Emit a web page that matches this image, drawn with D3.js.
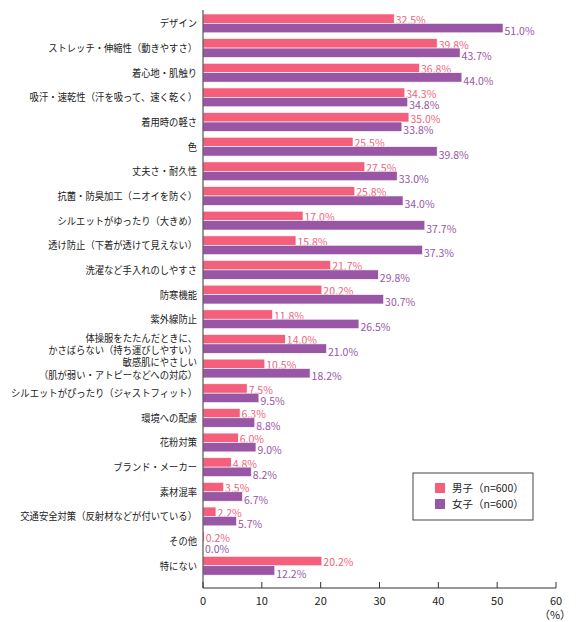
<!DOCTYPE html><html><head><meta charset="utf-8"><script src="https://cdn.jsdelivr.net/npm/d3@7"></script>
<style>body{margin:0;background:#fff}text{font-family:"Noto Sans CJK JP","Noto Sans",sans-serif}</style></head><body><svg id="c" width="579" height="622"></svg><script>
const categories=["デザイン","ストレッチ・伸縮性（動きやすさ）","着心地・肌触り","吸汗・速乾性（汗を吸って、速く乾く）","着用時の軽さ","色","丈夫さ・耐久性","抗菌・防臭加工（ニオイを防ぐ）","シルエットがゆったり（大きめ）","透け防止（下着が透けて見えない）","洗濯など手入れのしやすさ","防寒機能","紫外線防止","体操服をたたんだときに、\nかさばらない（持ち運びしやすい）","敏感肌にやさしい\n（肌が弱い・アトピーなどへの対応）","シルエットがぴったり（ジャストフィット）","環境への配慮","花粉対策","ブランド・メーカー","素材混率","交通安全対策（反射材などが付いている）","その他","特にない"];
const boys=[32.5,39.8,36.8,34.3,35.0,25.5,27.5,25.8,17.0,15.8,21.7,20.2,11.8,14.0,10.5,7.5,6.3,6.0,4.8,3.5,2.2,0.2,20.2];
const girls=[51.0,43.7,44.0,34.8,33.8,39.8,33.0,34.0,37.7,37.3,29.8,30.7,26.5,21.0,18.2,9.5,8.8,9.0,8.2,6.7,5.7,0.0,12.2];
const ticks=[0,10,20,30,40,50,60];
const series=["男子（n=600）","女子（n=600）"], colors=["#f45f7c","#9856a4"];
const svg=d3.select("#c");
const x=d3.scaleLinear().domain([0,60]).range([203,556]);
const y=d3.scaleBand().domain(categories).range([10,577]);
const bh=9.4, off=4;
const g=svg.append("g");
categories.forEach((c,i)=>{
  const y0=y(c)+off;
  [boys[i],girls[i]].forEach((v,k)=>{
    g.append("rect").attr("x",x(0)).attr("y",y0+k*bh).attr("width",Math.max(x(v)-x(0),v>0?0.8:0)).attr("height",bh).attr("fill",colors[k]).attr("stroke","#fff").attr("stroke-width",0.6);
    g.append("text").attr("x",x(v)+(v>0?1.5:2)).attr("y",y0+k*bh+bh+(k?2.5:0.5)).attr("font-size",10.5).attr("fill",colors[k]).text(v.toFixed(1)+"%");
  });
  const lines=c.split("\n"), cy=y(c)+y.bandwidth()/2+1;
  lines.forEach((l,j)=>{
    const t=g.append("text").attr("x",197).attr("y",cy+(j-(lines.length-1)/2)*12.5+4).attr("text-anchor","end").attr("font-size",10).attr("fill","#222").text(l);
    const w=t.node().getComputedTextLength();
    const maxW=Math.min(w, l.length*9.3);
    if(w>maxW) t.attr("textLength",maxW).attr("lengthAdjust","spacingAndGlyphs");
  });
});
svg.append("line").attr("x1",x(0)).attr("x2",x(0)).attr("y1",10).attr("y2",588).attr("stroke","#333");
svg.append("line").attr("x1",x(0)).attr("x2",x(60)).attr("y1",588).attr("y2",588).attr("stroke","#333");
ticks.forEach(t=>{
  svg.append("line").attr("x1",x(t)).attr("x2",x(t)).attr("y1",582).attr("y2",588).attr("stroke","#333");
  svg.append("text").attr("x",x(t)).attr("y",605).attr("text-anchor","middle").attr("font-size",11).attr("fill","#222").text(t);
});
svg.append("text").attr("x",555).attr("y",619).attr("text-anchor","middle").attr("font-size",11).attr("fill","#222").text("（%）");
svg.append("rect").attr("x",413).attr("y",473).attr("width",120).attr("height",47).attr("fill","#fff").attr("stroke","#444");
series.forEach((s,k)=>{
  svg.append("rect").attr("x",435).attr("y",483+k*16).attr("width",10).attr("height",10).attr("fill",colors[k]);
  svg.append("text").attr("x",452).attr("y",492+k*16).attr("font-size",10.5).attr("fill","#222").text(s);
});
</script></body></html>
